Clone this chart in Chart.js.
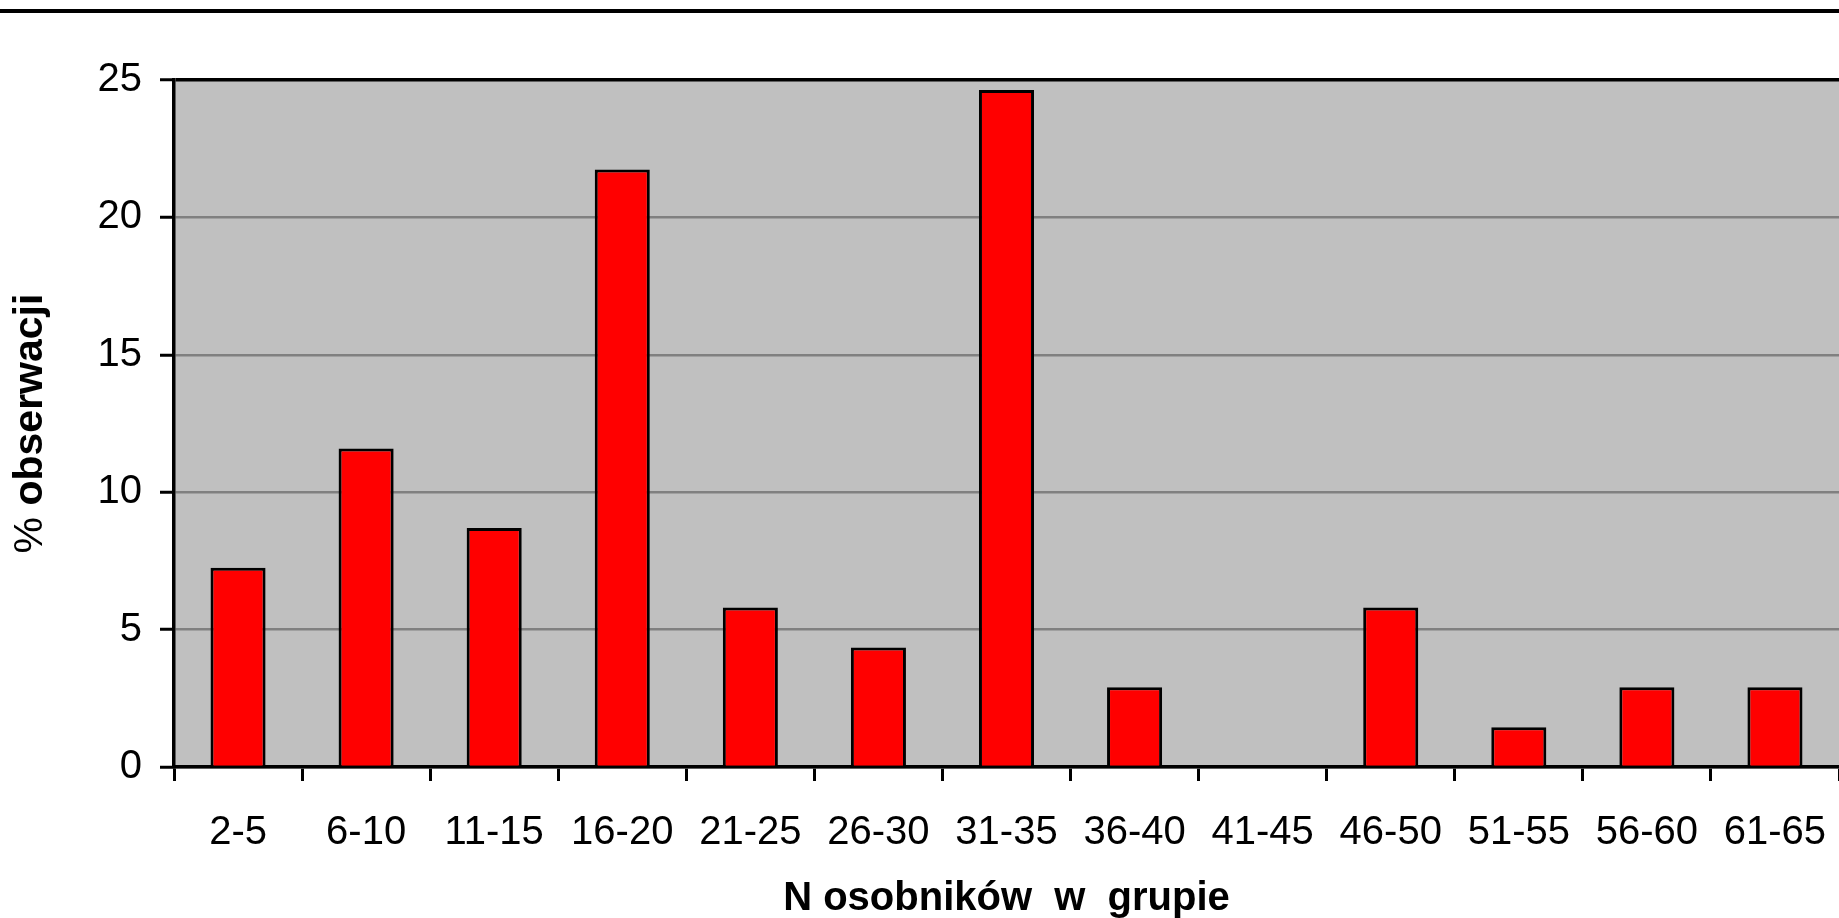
<!DOCTYPE html>
<html lang="pl">
<head>
<meta charset="utf-8">
<title>N osobników w grupie</title>
<script src="https://cdn.jsdelivr.net/npm/chart.js@4/dist/chart.umd.min.js"></script>
<style>
    html, body { margin: 0; padding: 0; background: #fff; overflow: hidden; }
    canvas { display: block; }
</style>
</head>
<body>
<canvas id="groupChart" width="1839" height="918"></canvas>
<script>
// Group size classes and share of observations (%)
const groupSizes = ['2-5', '6-10', '11-15', '16-20', '21-25', '26-30', '31-35',
    '36-40', '41-45', '46-50', '51-55', '56-60', '61-65'];
const observationPct = [7.25, 11.59, 8.70, 21.74, 5.80, 4.35, 24.64,
    2.90, 0, 5.80, 1.45, 2.90, 2.90];
const yTicks = [0, 5, 10, 15, 20, 25];

const FONT = 'Arial, "Liberation Sans", sans-serif';
const PLOT_BOTTOM = 767;

// gray plot area + black rule across the top
const plotBackground = {
    id: 'plotBackground',
    beforeDraw(chart) {
        const { ctx, chartArea: a, width } = chart;
        ctx.save();
        ctx.fillStyle = '#C0C0C0';
        ctx.fillRect(a.left, a.top, a.right - a.left, a.bottom - a.top);
        ctx.fillStyle = '#000';
        ctx.fillRect(0, 9, width, 4);
        ctx.restore();
    }
};

// y title: "%" regular, "obserwacji" bold
const yTitle = {
    id: 'yTitle',
    afterDraw(chart) {
        const ctx = chart.ctx;
        const a = chart.chartArea;
        const regular = '41px ' + FONT;
        const bold = 'bold 41px ' + FONT;
        ctx.save();
        ctx.font = regular;
        const w1 = ctx.measureText('% ').width;
        ctx.font = bold;
        const w2 = ctx.measureText('obserwacji').width;
        ctx.translate(31, (a.top + a.bottom) / 2);
        ctx.rotate(-Math.PI / 2);
        ctx.fillStyle = '#000';
        ctx.textBaseline = 'middle';
        ctx.textAlign = 'left';
        const x0 = -(w1 + w2) / 2;
        ctx.font = regular;
        ctx.fillText('% ', x0, 0);
        ctx.font = bold;
        ctx.fillText('obserwacji', x0 + w1, 0);
        ctx.restore();
    }
};

new Chart(document.getElementById('groupChart'), {
    type: 'bar',
    data: {
        labels: groupSizes,
        datasets: [{
            data: observationPct,
            backgroundColor: '#FF0000',
            borderColor: '#000',
            borderWidth: 3,
            categoryPercentage: 1,
            barPercentage: 0.43
        }]
    },
    options: {
        responsive: false,
        devicePixelRatio: 1,
        animation: false,
        layout: { padding: { top: 80, right: 0, left: 0, bottom: 0 } },
        plugins: {
            legend: { display: false },
            tooltip: { enabled: false }
        },
        scales: {
            x: {
                offset: true,
                grid: {
                    offset: true,
                    drawOnChartArea: false,
                    tickLength: 14,
                    tickColor: '#000',
                    tickWidth: 3
                },
                border: { display: true, color: '#000', width: 3.5 },
                ticks: {
                    color: '#000',
                    padding: 28,
                    maxRotation: 0,
                    autoSkip: false,
                    font: { family: FONT, size: 40 }
                },
                title: {
                    display: true,
                    text: 'N osobników  w  grupie',
                    color: '#000',
                    font: { family: FONT, size: 40, weight: 'bold', lineHeight: 1 },
                    padding: { top: 0, bottom: -1 }
                },
                afterFit(scale) {
                    scale.height = 918 - PLOT_BOTTOM;
                    scale.paddingLeft = 0;
                    scale.paddingRight = 0;
                }
            },
            y: {
                min: 0,
                max: 25,
                afterBuildTicks(scale) { scale.ticks = yTicks.map(v => ({ value: v })); },
                grid: {
                    color: ctx => (ctx.tick && ctx.tick.value === 25 ? '#000' : '#808080'),
                    lineWidth: ctx => (ctx.tick && ctx.tick.value === 25 ? 3.5 : 2.5),
                    tickLength: 14,
                    tickColor: '#000',
                    tickWidth: 3
                },
                border: { display: true, color: '#000', width: 3.5 },
                ticks: {
                    color: '#000',
                    padding: 18,
                    font: { family: FONT, size: 40 }
                },
                afterFit(scale) {
                    scale.width = 174;
                    scale.paddingTop = 0;
                    scale.paddingBottom = 0;
                }
            }
        }
    },
    plugins: [plotBackground, yTitle]
});
</script>
</body>
</html>
